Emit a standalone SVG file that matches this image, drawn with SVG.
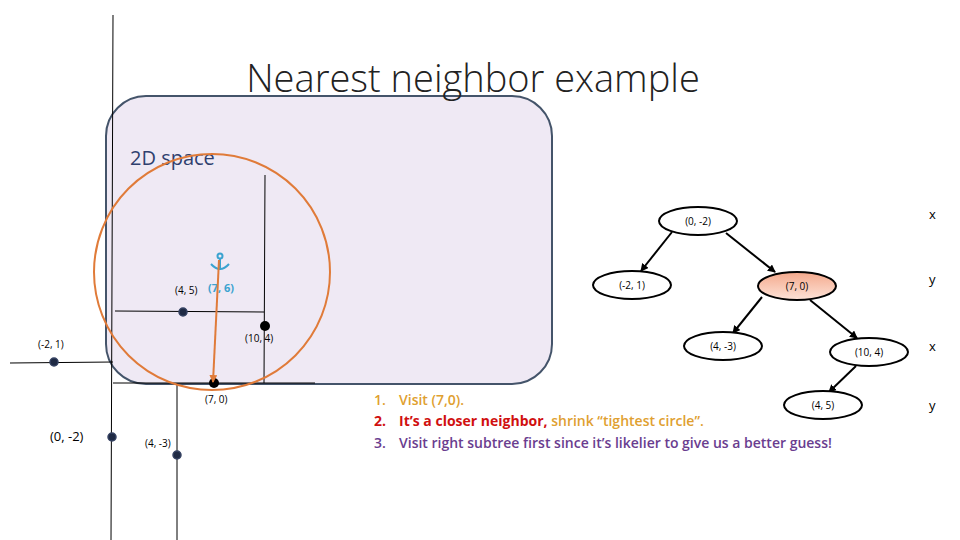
<svg xmlns="http://www.w3.org/2000/svg" width="960" height="540" viewBox="0 0 960 540">
<style>
.t{font-family:"Open Sans","Liberation Sans",sans-serif;fill:#000}
.s{font-size:10px}
.ln{stroke:#000;stroke-width:1;fill:none}
.pt{fill:#1f2a44;stroke:#354262;stroke-width:1.5}
.nd{fill:#fff;stroke:#000;stroke-width:2}
.ed{stroke:#000;stroke-width:2;marker-end:url(#ah)}
.li{font-family:"Open Sans","Liberation Sans",sans-serif;font-size:14px}
</style>
<defs>
<marker id="ah" markerWidth="8" markerHeight="8" refX="7" refY="4" orient="auto" markerUnits="userSpaceOnUse"><path d="M0,0 L8,4 L0,8 z" fill="#000"/></marker>
<marker id="oa" markerWidth="8" markerHeight="8" refX="7" refY="4" orient="auto" markerUnits="userSpaceOnUse"><path d="M0,0 L8,4 L0,8 z" fill="#e07b39"/></marker>
<linearGradient id="g" x1="0" y1="0" x2="0" y2="1"><stop offset="0" stop-color="#f4a98c"/><stop offset="1" stop-color="#fde3d8"/></linearGradient>
</defs>
<rect width="960" height="540" fill="#fff"/>
<g id="space">
<rect x="106" y="96" width="446" height="288" rx="40" fill="#efe9f4" stroke="#44546a" stroke-width="2"/>
<text x="130" y="165" font-family="Open Sans,Liberation Sans,sans-serif" font-size="20" fill="#2f3f6e">2D space</text>
</g>
<text x="473" y="92" text-anchor="middle" font-family="Open Sans,Liberation Sans,sans-serif" font-size="38" font-weight="300" fill="#222">Nearest neighbor example</text>
<g id="splits">
<line class="ln" x1="113" y1="15" x2="111" y2="540"/>
<line class="ln" x1="115" y1="311" x2="264" y2="312"/>
<line class="ln" x1="265" y1="175" x2="264" y2="383"/>
<line class="ln" x1="10" y1="363" x2="113" y2="362"/>
<line class="ln" x1="113" y1="383" x2="315" y2="383"/>
<line class="ln" x1="177" y1="383" x2="177" y2="540"/>
</g>
<g id="points">
<circle class="pt" cx="183" cy="312" r="4"/>
<circle cx="265" cy="326" r="5" fill="#000"/>
<circle class="pt" cx="54" cy="362" r="4"/>
<circle cx="214" cy="383" r="5" fill="#000"/>
<circle class="pt" cx="112" cy="437" r="4"/>
<circle class="pt" cx="177" cy="455" r="4"/>
<text class="t s" x="175" y="294">(4, 5)</text>
<text class="t s" x="245" y="342">(10, 4)</text>
<text class="t s" x="38" y="348">(-2, 1)</text>
<text class="t s" x="205" y="403">(7, 0)</text>
<text class="t" x="50" y="441" font-size="13">(0, -2)</text>
<text class="t s" x="145" y="447">(4, -3)</text>
<text x="208" y="292" font-family="Open Sans,Liberation Sans,sans-serif" font-size="11" font-weight="bold" fill="#3ba3d0">(7, 6)</text>
<g stroke="#3ba3d0" stroke-width="2" fill="none"><circle cx="220" cy="256" r="2.5"/><line x1="220" y1="258" x2="220" y2="270"/><path d="M211,264 Q220,274 229,264"/></g>
</g>
<g id="circle">
<circle cx="212" cy="272" r="118" fill="none" stroke="#e07b39" stroke-width="2"/>
<line x1="219" y1="260" x2="213" y2="382" stroke="#e07b39" stroke-width="2" marker-end="url(#oa)"/>
</g>
<g id="connectors">
<line class="ed" x1="672" y1="232" x2="641" y2="271"/>
<line class="ed" x1="726" y1="233" x2="775" y2="272"/>
<line class="ed" x1="762" y1="297" x2="733" y2="333"/>
<line class="ed" x1="810" y1="300" x2="857" y2="338"/>
<line class="ed" x1="856" y1="366" x2="829" y2="392"/>
</g>
<g id="n0"><ellipse class="nd" cx="698" cy="221" rx="39" ry="14"/><text class="t s" x="698" y="225" text-anchor="middle">(0, -2)</text></g>
<g id="n1"><ellipse class="nd" cx="632" cy="285" rx="39" ry="14"/><text class="t s" x="632" y="289" text-anchor="middle">(-2, 1)</text></g>
<g id="n2"><ellipse cx="797" cy="286" rx="39" ry="14" fill="url(#g)" stroke="#000" stroke-width="2"/><text class="t s" x="797" y="290" text-anchor="middle">(7, 0)</text></g>
<g id="n3"><ellipse class="nd" cx="723" cy="346" rx="39" ry="14"/><text class="t s" x="723" y="350" text-anchor="middle">(4, -3)</text></g>
<g id="n4"><ellipse class="nd" cx="869" cy="352" rx="39" ry="14"/><text class="t s" x="869" y="356" text-anchor="middle">(10, 4)</text></g>
<g id="n5"><ellipse class="nd" cx="823" cy="405" rx="39" ry="14"/><text class="t s" x="823" y="409" text-anchor="middle">(4, 5)</text></g>
<g id="levels" font-family="Open Sans,Liberation Sans,sans-serif" font-size="13" fill="#000">
<text x="929" y="219">x</text><text x="929" y="284">y</text><text x="929" y="351">x</text><text x="929" y="410">y</text>
</g>
<g id="steps" class="li">
<text x="374" y="405" font-weight="600" fill="#e0a030"><tspan>1.</tspan><tspan x="399">Visit (7,0).</tspan></text>
<text x="374" y="426" font-weight="bold" fill="#d01010"><tspan>2.</tspan><tspan x="399">It’s a closer neighbor,</tspan><tspan font-weight="600" fill="#e0a030"> shrink “tightest circle”.</tspan></text>
<text x="374" y="448" font-weight="600" fill="#6a3d8f"><tspan>3.</tspan><tspan x="399">Visit right subtree first since it’s likelier to give us a better guess!</tspan></text>
</g>
</svg>
